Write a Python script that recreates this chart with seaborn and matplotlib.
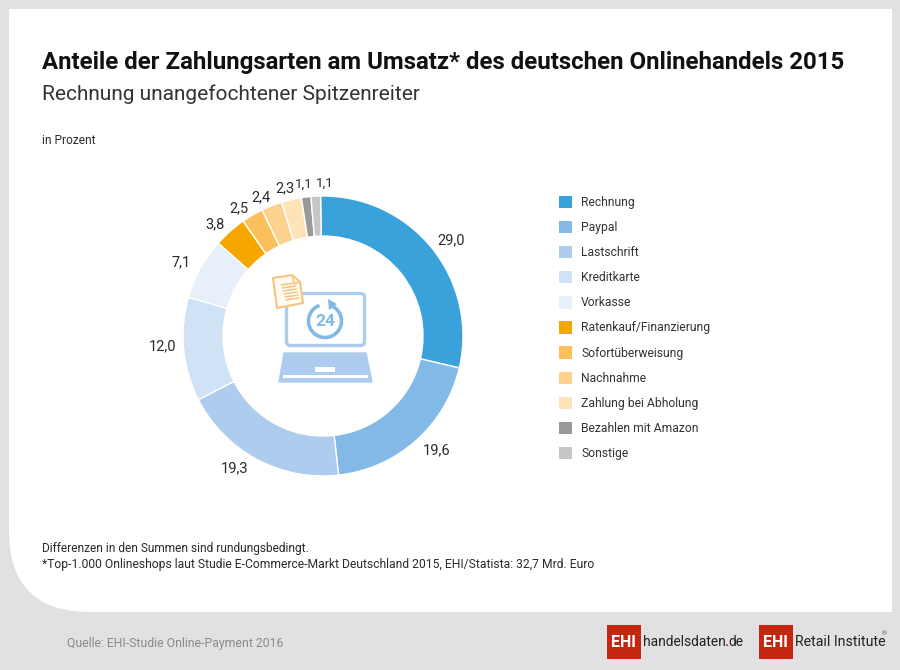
import matplotlib
matplotlib.use("Agg")
import matplotlib.pyplot as plt
import numpy as np
import seaborn as sns
from matplotlib.patches import Arc, FancyBboxPatch, PathPatch, Polygon, Rectangle
from matplotlib.path import Path

categories = ["Rechnung", "Paypal", "Lastschrift", "Kreditkarte", "Vorkasse",
              "Ratenkauf/Finanzierung", "Sofortüberweisung", "Nachnahme",
              "Zahlung bei Abholung", "Bezahlen mit Amazon", "Sonstige"]
values = [29.0, 19.6, 19.3, 12.0, 7.1, 3.8, 2.5, 2.4, 2.3, 1.1, 1.1]
colors = ["#3aa2db", "#82b9e6", "#aecdee", "#cfe2f6", "#e6effa", "#f5a700",
          "#fbc05c", "#fdd28e", "#fee3b8", "#999999", "#c6c6c6"]

title = "Anteile der Zahlungsarten am Umsatz* des deutschen Onlinehandels 2015"
subtitle = "Rechnung unangefochtener Spitzenreiter"
unit = "in Prozent"
note1 = "Differenzen in den Summen sind rundungsbedingt."
note2 = "*Top-1.000 Onlineshops laut Studie E-Commerce-Markt Deutschland 2015, EHI/Statista: 32,7 Mrd. Euro"
source = "Quelle: EHI-Studie Online-Payment 2016"

BG = "#e1e1e3"
TEXT = "#2b2b2b"
RED = "#c4260f"
BLUE = "#aecdee"
BLUE2 = "#82b9e6"
ORANGE = "#f6c47c"

sns.set_theme(style="white")
plt.rcParams["font.family"] = ["Roboto", "DejaVu Sans"]

fig = plt.figure(figsize=(9, 6.7), dpi=100, facecolor=BG)
ax = fig.add_axes([0, 0, 1, 1])

# white card, only the lower left corner is round
card = Path([(9, 9), (892, 9), (892, 612), (90, 612), (9, 612), (9, 531), (9, 9)],
            [Path.MOVETO, Path.LINETO, Path.LINETO, Path.LINETO,
             Path.CURVE3, Path.CURVE3, Path.CLOSEPOLY])
ax.add_patch(PathPatch(card, facecolor="white", edgecolor="none", zorder=0))

# donut, the y axis is flipped below so counterclock comes out clockwise
cx, cy, r = 323, 336, 140
wedges, _ = ax.pie(values, colors=colors, startangle=-91, counterclock=True,
                   center=(cx, cy), radius=r,
                   wedgeprops={"width": 40, "edgecolor": "white", "linewidth": 1.0})

# labels sit around the ring but not exactly on the wedge middle
label_nudge = [(2, 3), (10, -7), (-10, -7), (-1, -2), (-3, 6), (-8, 5),
               (-9, 7), (-8, 6), (-6, 3), (-3, 1), (7, 1)]
for w, v, (nx, ny) in zip(wedges, values, label_nudge):
    mid = np.deg2rad((w.theta1 + w.theta2) / 2 + 1)
    dist = 160 if v > 5 else 154
    ax.text(cx + dist * np.cos(mid) + nx, cy + dist * np.sin(mid) + ny,
            f"{v:.1f}".replace(".", ","), ha="center", va="center",
            fontsize=10.5 if v > 2 else 9.6, color=TEXT)

# legend
leg_y = [202 + i * 25.1 for i in range(len(categories))]
sns.scatterplot(x=[565.5] * len(categories), y=leg_y, hue=categories, palette=colors,
                marker="s", s=78, linewidth=0, legend=False, ax=ax)
for y, c in zip(leg_y, categories):
    ax.text(581, y + 0.5, c, va="center", fontsize=8.7, color="#333333")

# texts
ax.text(42, 62, title, fontsize=17.25, fontweight="bold", color="#111111", va="center")
ax.text(42, 94, subtitle, fontsize=15, color="#333333", va="center")
ax.text(42, 140, unit, fontsize=8.6, color=TEXT, va="center")
ax.text(42, 548.5, note1, fontsize=8.6, color=TEXT, va="center")
ax.text(42, 564.5, note2, fontsize=8.7, color=TEXT, va="center")
ax.text(67, 643, source, fontsize=8.8, color="#8b8b8b", va="center")

# laptop icon
ax.add_patch(FancyBboxPatch((286.5, 293.5), 78, 52, boxstyle="round,pad=0,rounding_size=4",
                            facecolor="white", edgecolor=BLUE, linewidth=2.4))
ax.add_patch(Polygon([(284, 353), (366, 353), (372, 382), (279, 382)], closed=True,
                     facecolor=BLUE, edgecolor=BLUE, linewidth=1, joinstyle="round"))
ax.add_patch(Rectangle((315, 367), 20, 4.5, facecolor="white", edgecolor="none"))
ax.add_patch(Rectangle((283, 375), 85, 2.5, facecolor="white", edgecolor="none"))
ax.add_patch(Arc((325, 321), 33, 33, theta1=-70, theta2=250, color=BLUE2, linewidth=2.6))
ax.add_patch(Polygon([(328, 299), (337, 304), (329, 310)], closed=True, facecolor=BLUE2, edgecolor="none"))
ax.text(325, 321.5, "24", fontsize=12.5, fontweight="bold", color=BLUE2, ha="center", va="center")

# document icon
ax.add_patch(Polygon([(273, 278), (292, 275), (300, 282), (303, 303), (277, 308)], closed=True,
                     facecolor="#fffaf2", edgecolor=ORANGE, linewidth=1.5, joinstyle="round"))
ax.add_patch(Polygon([(292, 275), (294, 284), (300, 282)], closed=True,
                     facecolor="#fdeccf", edgecolor=ORANGE, linewidth=1))
for i in range(6):
    ax.plot([281 + 0.9 * i, 295 + 0.9 * i], [285 - 0.2 * i + 3.2 * i, 283 - 0.2 * i + 3.2 * i],
            color=ORANGE, linewidth=1.1, solid_capstyle="butt")

# logos
for x0 in (607, 759):
    ax.add_patch(Rectangle((x0, 625), 33.5, 33.5, facecolor=RED, edgecolor="none"))
    ax.text(x0 + 16.8, 642.5, "EHI", color="white", fontsize=11.5, fontweight="bold",
            ha="center", va="center")
ax.text(643, 642, "handelsdaten", fontsize=9.9, color="#222222", va="center")
ax.text(724.5, 642, ".", fontsize=10, fontweight="bold", color=RED, va="center")
ax.text(728, 642, "de", fontsize=9.9, color="#222222", va="center")
ax.text(795, 642, "Retail Institute", fontsize=10.2, color="#222222", va="center")
ax.text(884, 634, "®", fontsize=4.5, color="#555555", ha="center", va="center")

ax.set_xlim(0, 900)
ax.set_ylim(670, 0)
ax.set_aspect("auto")
ax.axis("off")

fig.savefig("out.png", dpi=100, facecolor=BG)
